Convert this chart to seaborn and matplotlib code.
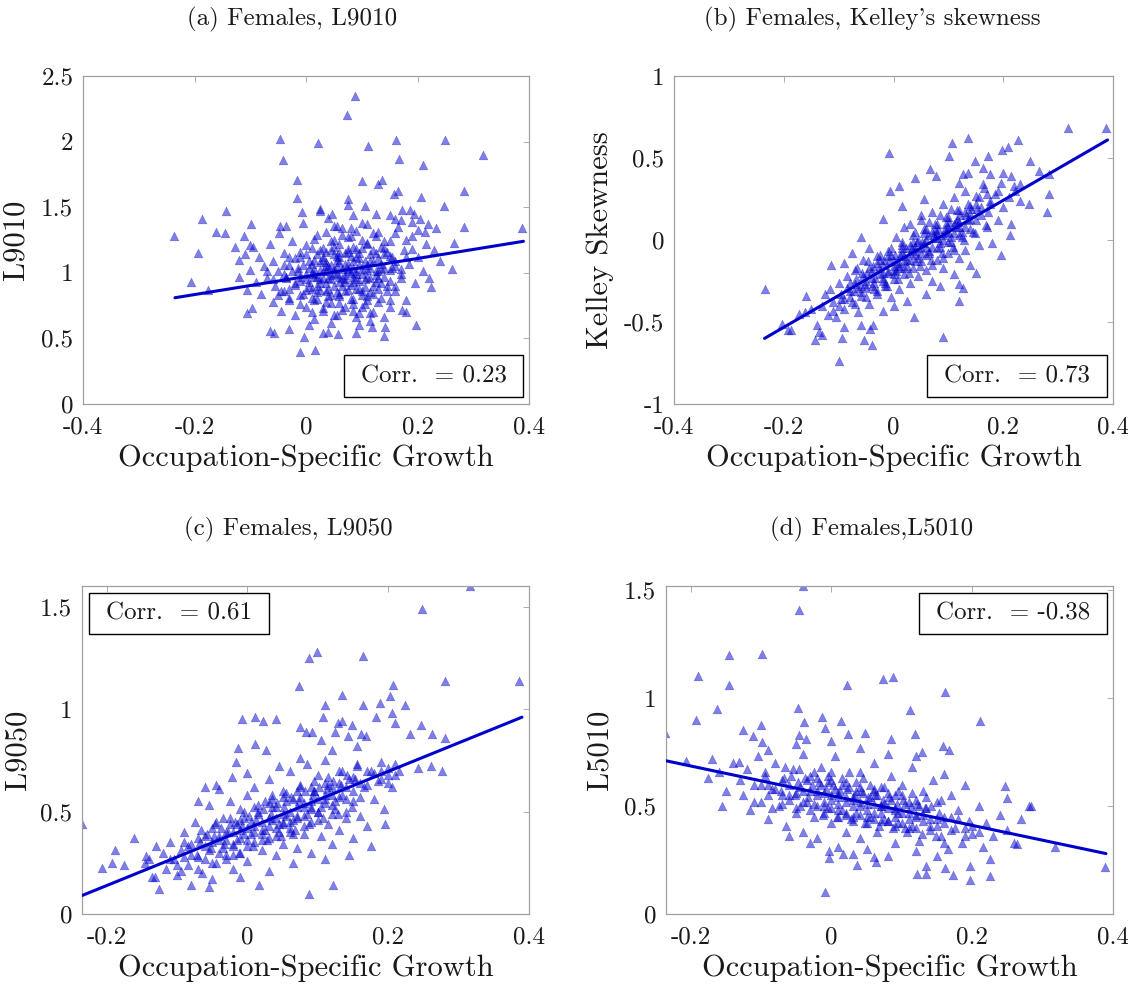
import numpy as np
import pandas as pd
import matplotlib
matplotlib.use("Agg")
import matplotlib.pyplot as plt
from matplotlib.ticker import FuncFormatter
from matplotlib.patches import Rectangle
import seaborn as sns

# ---- data (approximate) ----
# (a) L9010 vs occupation-specific growth
l9010_pts = [
    (0.088, 2.35), (0.074, 2.20), (-0.046, 2.02), (0.021, 1.99), (0.162, 2.01), (0.249, 2.01),
    (0.112, 1.97), (-0.041, 1.86), (0.166, 1.87), (0.210, 1.82), (0.318, 1.90), (-0.016, 1.71),
    (0.100, 1.70), (0.129, 1.68), (0.136, 1.71), (0.158, 1.60), (0.165, 1.62), (0.206, 1.58),
    (0.284, 1.62), (-0.017, 1.57), (0.075, 1.56), (0.247, 1.51), (0.388, 1.34), (0.283, 1.35),
    (0.265, 1.23), (0.262, 1.03), (0.224, 0.89), (0.198, 0.60), (-0.236, 1.28), (-0.187, 1.41),
    (-0.143, 1.47), (-0.162, 1.31), (-0.145, 1.30), (-0.193, 1.15), (-0.206, 0.93), (-0.175, 0.87),
    (-0.099, 1.37), (-0.111, 1.28), (-0.127, 1.20), (-0.100, 1.21), (-0.046, 1.36), (-0.120, 1.10),
    (-0.106, 0.69), (-0.097, 0.73), (-0.065, 0.56), (-0.057, 0.54), (-0.031, 0.57), (-0.010, 0.40),
    (0.016, 0.41), (-0.004, 0.51), (0.030, 0.54), (0.039, 0.55), (0.057, 0.53), (0.089, 0.54),
    (0.095, 0.60), (0.118, 0.59), (0.142, 0.59), (0.140, 0.52), (0.123, 0.32), (0.173, 0.72),
    (-0.007, 1.46), (0.025, 1.49), (0.047, 1.45), (0.076, 1.52), (0.106, 1.51), (0.187, 1.48),
    (0.172, 1.48), (0.151, 1.44), (0.194, 1.45), (0.204, 1.41), (0.219, 1.37), (0.233, 1.34),
    (0.213, 1.31),
    (-0.10, 1.02), (-0.09, 0.93), (-0.085, 1.12), (-0.08, 0.84), (-0.075, 1.05), (-0.07, 0.96),
    (-0.065, 1.22), (-0.06, 0.78), (-0.06, 1.09), (-0.055, 0.90), (-0.05, 1.01), (-0.048, 1.30),
    (-0.045, 0.71), (-0.04, 0.86), (-0.04, 1.15), (-0.035, 0.97), (-0.03, 1.06), (-0.03, 0.79),
    (-0.025, 1.24), (-0.02, 0.92), (-0.02, 0.68), (-0.015, 1.01), (-0.01, 1.12), (-0.01, 0.83),
    (-0.005, 1.38), (0.0, 0.95), (0.0, 0.74), (0.005, 1.04), (0.01, 0.88), (0.01, 1.19),
    (0.015, 0.65), (0.015, 0.99), (0.02, 1.29), (0.02, 0.80), (0.025, 1.08), (0.025, 0.92),
    (0.03, 0.71), (0.03, 1.01), (0.035, 1.16), (0.035, 0.86), (0.04, 0.96), (0.04, 1.42),
    (0.045, 0.77), (0.045, 1.06), (0.05, 0.90), (0.05, 1.25), (0.055, 0.99), (0.055, 0.68),
    (0.06, 1.12), (0.06, 0.84), (0.065, 1.03), (0.065, 1.34), (0.07, 0.93), (0.07, 0.74),
    (0.075, 1.18), (0.075, 0.87), (0.08, 1.00), (0.08, 1.28), (0.085, 0.80), (0.085, 1.09),
    (0.09, 0.95), (0.09, 0.66), (0.095, 1.15), (0.095, 0.88), (0.10, 1.03), (0.10, 1.38),
    (0.105, 0.76), (0.11, 0.97), (0.11, 1.22), (0.115, 0.85), (0.12, 1.08), (0.12, 0.70),
    (0.125, 0.93), (0.13, 1.31), (0.13, 1.01), (0.135, 0.81), (0.14, 1.14), (0.145, 0.90),
    (0.15, 1.24), (0.15, 0.74), (0.155, 1.04), (0.16, 0.86), (0.165, 1.35), (0.17, 0.96),
    (0.175, 1.17), (0.18, 0.79), (0.185, 1.07), (0.19, 1.28), (0.195, 0.92), (0.20, 1.12),
    (0.21, 1.01), (0.215, 1.22), (0.22, 0.96), (0.23, 1.17), (0.24, 1.09), (-0.11, 1.14),
    (-0.12, 0.97), (-0.105, 0.87), (-0.095, 1.20), (0.005, 0.60), (0.045, 0.62), (0.115, 0.63),
    (0.14, 0.66), (0.025, 1.47), (0.085, 1.44), (0.125, 1.45), (0.16, 1.41), (0.19, 1.39),
    (-0.035, 1.36), (0.055, 1.36), (0.18, 0.70), (0.17, 1.03), (0.135, 1.20), (0.06, 0.97),
    (0.035, 1.05), (0.07, 1.07), (0.05, 1.14), (0.09, 1.01), (0.02, 0.97),
    # dense core
    (-0.01, 0.76), (0.03, 0.73), (0.06, 0.77), (0.10, 0.74), (0.13, 0.78),
    (-0.03, 0.81), (0.015, 0.79), (0.045, 0.83), (0.08, 0.80), (0.11, 0.82), (0.15, 0.79),
    (-0.045, 0.86), (-0.005, 0.84), (0.025, 0.87), (0.055, 0.85), (0.09, 0.88), (0.12, 0.84),
    (0.145, 0.86), (-0.02, 0.91), (0.005, 0.89), (0.035, 0.92), (0.065, 0.90), (0.085, 0.93),
    (0.105, 0.89), (0.135, 0.92), (0.16, 0.90), (-0.035, 0.96), (-0.01, 0.94), (0.015, 0.97),
    (0.045, 0.95), (0.07, 0.98), (0.095, 0.94), (0.115, 0.96), (0.14, 0.97),
    (-0.025, 1.01), (0.0, 0.99), (0.025, 1.02), (0.05, 1.00), (0.075, 1.03), (0.10, 0.99),
    (0.125, 1.01), (0.15, 1.02), (0.17, 0.99), (-0.04, 1.06), (-0.015, 1.04), (0.01, 1.07),
    (0.04, 1.05), (0.06, 1.08), (0.085, 1.04), (0.11, 1.06), (0.135, 1.07), (0.16, 1.05),
    (-0.02, 1.11), (0.005, 1.09), (0.03, 1.12), (0.055, 1.10), (0.08, 1.13), (0.105, 1.09),
    (0.13, 1.11), (0.155, 1.12), (-0.01, 1.16), (0.02, 1.14), (0.045, 1.17), (0.07, 1.15),
    (0.09, 1.18), (0.115, 1.14), (0.145, 1.16), (0.0, 1.21), (0.03, 1.19), (0.06, 1.22),
    (0.085, 1.20), (0.11, 1.23), (0.14, 1.19), (0.015, 1.26), (0.045, 1.24), (0.075, 1.27),
    (0.10, 1.25), (0.125, 1.28), (0.035, 1.31), (0.065, 1.29), (0.09, 1.32), (0.12, 1.30),
    (0.05, 1.36), (0.08, 1.34), (0.11, 1.37), (0.01, 0.70), (0.05, 0.68), (0.085, 0.71),
    (0.115, 0.69),
    (0.0, 0.87), (0.02, 0.90), (0.04, 0.88), (0.06, 0.93), (0.08, 0.91), (0.10, 0.86),
    (0.12, 0.90), (-0.01, 0.97), (0.01, 1.00), (0.03, 0.96), (0.05, 1.03), (0.07, 0.95),
    (0.09, 0.99), (0.11, 1.02), (0.13, 0.96), (-0.005, 1.06), (0.015, 1.10), (0.035, 1.08),
    (0.055, 1.13), (0.075, 1.07), (0.095, 1.11), (0.115, 1.09), (0.14, 1.04), (0.0, 1.14),
    (0.025, 1.17), (0.05, 1.20), (0.075, 1.16), (0.10, 1.19), (0.125, 1.15), (0.01, 0.81),
    (0.035, 0.78), (0.06, 0.82), (0.085, 0.76), (0.11, 0.79), (-0.03, 0.88), (-0.04, 0.99),
    (-0.03, 1.12), (0.15, 0.94), (0.16, 1.09), (0.14, 1.24),
    (0.005, 0.93), (0.025, 0.95), (0.045, 0.98), (0.065, 0.96), (0.085, 0.97), (0.105, 0.95),
    (0.125, 0.98), (0.015, 1.03), (0.035, 1.01), (0.055, 1.05), (0.075, 1.01), (0.095, 1.06),
    (0.115, 1.04), (0.135, 1.03), (0.02, 0.85), (0.04, 0.82), (0.07, 0.86), (0.10, 0.83),
    (0.13, 0.88), (0.03, 1.10), (0.06, 1.16), (0.09, 1.12), (0.12, 1.17), (0.15, 1.13),
    (0.16, 1.30), (0.18, 1.25), (0.17, 1.40), (0.20, 1.33), (0.19, 1.18), (0.18, 1.12),
    (-0.06, 0.95), (-0.07, 1.01), (-0.05, 0.83), (0.065, 0.72), (0.095, 0.69),
]

# (b) Kelley skewness
kelley_pts = [
    (-0.234, -0.30), (-0.204, -0.51), (-0.192, -0.55), (-0.187, -0.55), (-0.173, -0.45),
    (-0.161, -0.44), (-0.143, -0.61), (-0.130, -0.58), (-0.114, -0.155), (-0.099, -0.74),
    (-0.094, -0.60), (-0.054, -0.61), (-0.040, -0.64), (-0.038, -0.52), (-0.043, -0.54),
    (-0.009, 0.53), (-0.007, 0.30), (0.010, 0.33), (0.039, 0.38), (0.038, -0.47), (0.090, -0.59),
    (0.119, -0.37), (0.126, -0.29), (0.151, -0.20), (0.195, -0.09), (0.212, 0.03),
    (0.107, 0.59), (0.102, 0.51), (0.136, 0.62), (0.148, 0.48), (0.173, 0.51), (0.197, 0.55),
    (0.209, 0.57), (0.226, 0.61), (0.249, 0.48), (0.265, 0.42), (0.284, 0.28), (0.279, 0.17),
    (0.247, 0.22), (0.284, 0.40), (0.318, 0.68), (0.388, 0.68),
    (0.067, 0.43), (0.077, 0.39), (0.119, 0.35), (0.127, 0.40), (0.136, 0.41), (0.163, 0.44),
    (0.175, 0.40), (0.164, 0.34), (0.200, 0.41), (0.215, 0.39), (0.230, 0.34), (0.221, 0.30),
    (-0.13, -0.40), (-0.125, -0.33), (-0.12, -0.46), (-0.115, -0.30), (-0.11, -0.38),
    (-0.105, -0.47), (-0.10, -0.26), (-0.095, -0.36), (-0.09, -0.42), (-0.085, -0.22),
    (-0.08, -0.31), (-0.075, -0.38), (-0.07, -0.18), (-0.07, -0.27), (-0.065, -0.44),
    (-0.06, -0.34), (-0.055, -0.12), (-0.055, -0.22), (-0.05, -0.29), (-0.045, -0.39),
    (-0.045, -0.05), (-0.04, -0.19), (-0.035, -0.26), (-0.03, -0.33), (-0.03, -0.10),
    (-0.025, -0.21), (-0.02, -0.43), (-0.02, -0.15), (-0.015, -0.28), (-0.01, -0.07),
    (-0.01, -0.20), (-0.005, -0.35), (0.0, -0.13), (0.0, -0.24), (0.005, 0.02), (0.01, -0.17),
    (0.01, -0.30), (0.015, -0.08), (0.02, -0.21), (0.02, 0.08), (0.025, -0.12), (0.03, -0.26),
    (0.03, -0.03), (0.035, -0.17), (0.04, 0.05), (0.04, -0.09), (0.045, -0.22), (0.05, -0.13),
    (0.05, 0.12), (0.055, -0.02), (0.06, -0.18), (0.06, 0.07), (0.065, -0.08), (0.07, 0.17),
    (0.07, -0.25), (0.075, 0.01), (0.08, -0.12), (0.08, 0.10), (0.085, -0.04), (0.09, 0.22),
    (0.09, -0.17), (0.095, 0.04), (0.10, -0.08), (0.10, 0.14), (0.105, -0.01), (0.11, 0.26),
    (0.11, -0.21), (0.115, 0.08), (0.12, -0.11), (0.12, 0.18), (0.125, 0.02), (0.13, 0.30),
    (0.13, -0.06), (0.135, 0.12), (0.14, 0.21), (0.14, -0.15), (0.145, 0.05), (0.15, 0.27),
    (0.155, -0.03), (0.16, 0.15), (0.165, 0.32), (0.17, 0.08), (0.175, 0.22), (0.18, -0.02),
    (0.185, 0.28), (0.19, 0.12), (0.195, 0.35), (0.20, 0.20), (0.21, 0.26), (0.215, 0.10),
    (0.22, 0.33), (0.23, 0.24), (-0.14, -0.52), (-0.15, -0.42), (-0.16, -0.34), (-0.135, -0.56),
    (-0.09, -0.53), (-0.06, -0.52), (0.0, -0.40), (0.025, -0.37), (-0.075, -0.08), (-0.09, -0.14),
    (-0.06, 0.02), (-0.02, 0.13), (0.015, 0.21), (0.055, 0.25), (0.085, -0.28), (0.06, -0.33),
    (0.12, -0.27),
    # dense core
    (-0.07, -0.39), (-0.072, -0.31), (-0.068, -0.24), (-0.066, -0.17),
    (-0.05, -0.35), (-0.052, -0.27), (-0.048, -0.20), (-0.046, -0.13),
    (-0.03, -0.31), (-0.033, -0.23), (-0.027, -0.17), (-0.025, -0.09),
    (-0.012, -0.28), (-0.01, -0.19), (-0.008, -0.13), (-0.005, -0.05),
    (0.008, -0.24), (0.01, -0.16), (0.012, -0.09), (0.015, -0.01),
    (0.028, -0.20), (0.03, -0.12), (0.033, -0.05), (0.035, 0.03),
    (0.048, -0.16), (0.05, -0.08), (0.052, -0.01), (0.055, 0.07),
    (0.068, -0.12), (0.07, -0.04), (0.073, 0.03), (0.075, 0.10),
    (0.088, -0.08), (0.09, 0.0), (0.093, 0.07), (0.095, 0.14),
    (0.108, -0.04), (0.11, 0.04), (0.113, 0.11), (0.115, 0.18),
    (0.128, 0.0), (0.13, 0.08), (0.133, 0.15), (0.135, 0.22),
    (0.148, 0.04), (0.15, 0.12), (0.153, 0.19), (0.155, 0.26),
    (0.168, 0.09), (0.172, 0.17), (0.175, 0.24),
    (-0.06, -0.32), (-0.058, -0.20), (-0.04, -0.28), (-0.038, -0.16), (-0.02, -0.25),
    (-0.018, -0.12), (0.0, -0.21), (0.002, -0.09), (0.02, -0.17), (0.022, -0.05),
    (0.04, -0.13), (0.042, -0.01), (0.06, -0.09), (0.062, 0.03), (0.08, -0.05), (0.082, 0.07),
    (0.10, -0.01), (0.102, 0.11), (0.12, 0.03), (0.122, 0.15), (0.14, 0.07), (0.142, 0.19),
    (-0.09, -0.36), (-0.10, -0.40), (-0.11, -0.43), (-0.085, -0.29), (-0.095, -0.33),
    (-0.04, -0.23), (-0.02, -0.20), (0.0, -0.16), (0.02, -0.13), (0.04, -0.07), (0.06, -0.04),
    (0.08, 0.01), (0.10, 0.05), (0.12, 0.08), (0.14, 0.13), (-0.035, -0.30), (-0.015, -0.26),
    (0.005, -0.19), (0.025, -0.16), (0.045, -0.11), (0.065, -0.07), (0.085, -0.02),
    (0.105, 0.02), (0.125, 0.05), (-0.045, -0.17), (-0.025, -0.12), (-0.005, -0.09),
    (0.015, -0.05), (0.035, -0.01), (0.055, 0.04), (0.075, 0.06), (0.095, 0.10),
    (0.115, 0.13), (-0.065, -0.29), (-0.08, -0.35), (0.16, 0.20), (0.14, 0.16),
    (0.0, -0.18), (0.02, -0.10), (0.04, -0.04), (0.06, 0.0), (0.08, 0.04), (0.10, 0.08),
    (0.12, 0.11), (-0.02, -0.23), (0.01, -0.14), (0.03, -0.08), (0.05, -0.05), (0.07, 0.05),
    (0.09, 0.03), (0.11, 0.10), (-0.03, -0.14), (-0.01, -0.10), (0.015, -0.03), (0.045, 0.0),
    (0.065, 0.11), (0.085, 0.15), (0.105, 0.19), (-0.05, -0.25), (-0.06, -0.28), (-0.08, -0.26),
    (0.13, 0.17), (0.15, 0.22), (0.17, 0.28), (0.19, 0.30), (0.07, -0.15), (0.09, -0.11),
    (0.11, -0.06), (0.03, 0.10), (0.05, 0.15),
]

# (c) L9050
l9050_pts = [
    (-0.235, 0.44), (-0.206, 0.226), (-0.193, 0.25), (-0.188, 0.31), (-0.175, 0.24),
    (-0.161, 0.37), (-0.146, 0.25), (-0.144, 0.285), (-0.131, 0.18), (0.316, 1.60),
    (0.248, 1.49), (0.088, 1.25), (0.099, 1.28), (0.164, 1.26), (0.281, 1.135), (0.386, 1.135),
    (0.073, 1.11), (0.135, 1.07), (0.207, 1.115), (0.202, 1.065), (0.110, 1.02), (0.164, 1.02),
    (0.189, 1.03), (0.224, 1.02), (-0.007, 0.95), (0.011, 0.96), (0.022, 0.94), (0.040, 0.95),
    (-0.014, 0.81), (0.011, 0.83), (0.026, 0.80), (-0.016, 0.74), (-0.022, 0.67),
    (0.107, 0.96), (0.128, 0.93), (0.135, 0.94), (0.149, 0.92), (0.183, 0.96), (0.206, 0.98),
    (0.210, 0.93), (0.074, 0.91), (0.083, 0.89), (0.092, 0.89), (0.104, 0.85), (0.125, 0.89),
    (0.143, 0.87), (0.161, 0.88), (0.169, 0.87), (0.246, 0.92), (0.262, 0.88), (0.231, 0.88),
    (0.281, 0.86), (0.243, 0.71), (0.261, 0.72), (0.277, 0.70), (0.088, 0.10), (0.122, 0.14),
    (0.017, 0.14), (-0.055, 0.13), (0.194, 0.51), (0.196, 0.44),
    (-0.12, 0.30), (-0.115, 0.22), (-0.11, 0.35), (-0.105, 0.27), (-0.10, 0.19), (-0.095, 0.31),
    (-0.09, 0.40), (-0.085, 0.24), (-0.08, 0.34), (-0.075, 0.45), (-0.07, 0.28), (-0.065, 0.20),
    (-0.06, 0.38), (-0.055, 0.31), (-0.055, 0.53), (-0.05, 0.42), (-0.045, 0.25), (-0.04, 0.36),
    (-0.04, 0.61), (-0.035, 0.47), (-0.03, 0.29), (-0.03, 0.40), (-0.025, 0.55), (-0.02, 0.34),
    (-0.02, 0.22), (-0.015, 0.44), (-0.01, 0.51), (-0.01, 0.30), (-0.005, 0.39), (0.0, 0.58),
    (0.0, 0.26), (0.005, 0.45), (0.01, 0.35), (0.01, 0.62), (0.015, 0.49), (0.02, 0.31),
    (0.02, 0.41), (0.025, 0.55), (0.03, 0.37), (0.03, 0.66), (0.035, 0.46), (0.04, 0.29),
    (0.04, 0.52), (0.045, 0.40), (0.05, 0.60), (0.05, 0.34), (0.055, 0.48), (0.06, 0.70),
    (0.06, 0.42), (0.065, 0.56), (0.07, 0.32), (0.07, 0.47), (0.075, 0.63), (0.08, 0.39),
    (0.08, 0.54), (0.085, 0.73), (0.09, 0.45), (0.09, 0.30), (0.095, 0.60), (0.10, 0.50),
    (0.10, 0.68), (0.105, 0.38), (0.11, 0.56), (0.11, 0.75), (0.115, 0.44), (0.12, 0.62),
    (0.12, 0.34), (0.125, 0.51), (0.13, 0.70), (0.13, 0.41), (0.135, 0.58), (0.14, 0.47),
    (0.145, 0.66), (0.15, 0.37), (0.15, 0.55), (0.155, 0.73), (0.16, 0.48), (0.165, 0.62),
    (0.17, 0.43), (0.175, 0.70), (0.18, 0.56), (0.185, 0.65), (0.19, 0.74), (0.20, 0.68),
    (0.205, 0.62), (0.21, 0.73), (0.215, 0.70), (-0.14, 0.27), (-0.135, 0.18), (-0.13, 0.33),
    (-0.125, 0.12), (-0.08, 0.14), (-0.05, 0.17), (-0.01, 0.18), (0.03, 0.21), (0.065, 0.25),
    (0.11, 0.27), (0.145, 0.29), (0.175, 0.33), (-0.07, 0.55), (-0.06, 0.62), (-0.045, 0.63),
    (0.0, 0.69), (0.045, 0.72), (0.075, 0.76), (0.12, 0.80), (0.155, 0.82), (0.05, 0.44),
    (0.065, 0.39), (0.035, 0.58), (0.09, 0.52),
    # dense core
    (-0.07, 0.22), (-0.072, 0.29), (-0.068, 0.35), (-0.066, 0.41),
    (-0.05, 0.25), (-0.052, 0.32), (-0.048, 0.38), (-0.046, 0.44),
    (-0.03, 0.27), (-0.033, 0.34), (-0.027, 0.40), (-0.025, 0.47),
    (-0.012, 0.30), (-0.01, 0.37), (-0.008, 0.43), (-0.005, 0.50),
    (0.008, 0.33), (0.01, 0.40), (0.012, 0.46), (0.015, 0.53),
    (0.028, 0.36), (0.03, 0.43), (0.033, 0.49), (0.035, 0.56),
    (0.048, 0.38), (0.05, 0.45), (0.052, 0.52), (0.055, 0.59),
    (0.068, 0.41), (0.07, 0.48), (0.073, 0.55), (0.075, 0.62),
    (0.088, 0.44), (0.09, 0.51), (0.093, 0.58), (0.095, 0.65),
    (0.108, 0.47), (0.11, 0.54), (0.113, 0.61), (0.115, 0.67),
    (0.128, 0.49), (0.13, 0.57), (0.133, 0.63), (0.135, 0.70),
    (0.148, 0.52), (0.15, 0.60), (0.153, 0.66), (0.155, 0.72),
    (-0.06, 0.27), (-0.058, 0.39), (-0.04, 0.30), (-0.038, 0.42), (-0.02, 0.33), (-0.018, 0.45),
    (0.0, 0.36), (0.002, 0.48), (0.02, 0.39), (0.022, 0.51), (0.04, 0.42), (0.042, 0.54),
    (0.06, 0.45), (0.062, 0.57), (0.08, 0.48), (0.082, 0.60), (0.10, 0.50), (0.102, 0.62),
    (0.12, 0.53), (0.122, 0.65), (0.14, 0.56), (0.142, 0.68),
    (-0.09, 0.28), (-0.10, 0.24), (-0.11, 0.27), (-0.085, 0.33), (-0.095, 0.21),
    (0.17, 0.63), (0.18, 0.69), (0.19, 0.66), (0.20, 0.71), (0.21, 0.68),
    (-0.04, 0.38), (-0.02, 0.40), (0.0, 0.42), (0.02, 0.45), (0.04, 0.47), (0.06, 0.50),
    (0.08, 0.52), (0.10, 0.56), (0.12, 0.58), (-0.035, 0.32), (-0.015, 0.36), (0.005, 0.39),
    (0.025, 0.41), (0.045, 0.44), (0.065, 0.46), (0.085, 0.49), (0.105, 0.52), (0.125, 0.55),
    (-0.045, 0.45), (-0.025, 0.44), (-0.005, 0.47), (0.015, 0.50), (0.035, 0.52),
    (0.055, 0.55), (0.075, 0.57), (0.095, 0.60), (0.115, 0.63), (0.14, 0.62), (0.16, 0.64),
    (-0.08, 0.29), (-0.06, 0.33),
    (-0.03, 0.36), (-0.01, 0.41), (0.01, 0.43), (0.03, 0.47), (0.05, 0.49), (0.07, 0.52),
    (0.09, 0.55), (0.11, 0.58), (-0.02, 0.29), (0.0, 0.33), (0.02, 0.36), (0.04, 0.38),
    (0.06, 0.40), (0.08, 0.43), (0.10, 0.46), (0.12, 0.49), (-0.01, 0.46), (0.01, 0.52),
    (0.03, 0.54), (0.05, 0.57), (0.07, 0.60), (0.09, 0.62), (0.11, 0.64), (0.13, 0.64),
    (0.15, 0.67), (0.17, 0.70), (0.14, 0.50), (0.16, 0.57), (-0.07, 0.37), (-0.05, 0.35),
    (-0.09, 0.35), (0.19, 0.70), (0.20, 0.64),
]

# (d) L5010
l5010_pts = [
    (-0.236, 0.84), (-0.207, 0.71), (-0.193, 0.90), (-0.189, 1.105), (-0.176, 0.63),
    (-0.162, 0.95), (-0.145, 1.20), (-0.146, 1.06), (-0.099, 1.205), (-0.046, 1.41),
    (-0.040, 1.52), (0.022, 1.06), (0.073, 1.09), (0.088, 1.10), (0.161, 1.03), (0.111, 0.945),
    (0.211, 0.894), (0.389, 0.216), (0.317, 0.31), (-0.009, 0.10), (0.281, 0.50), (0.284, 0.50),
    (0.247, 0.595), (0.249, 0.536), (0.263, 0.326), (0.225, 0.178), (0.197, 0.156),
    (0.173, 0.179), (0.135, 0.187), (0.121, 0.187), (0.134, 0.221), (0.162, 0.213),
    (0.197, 0.221), (0.225, 0.255), (-0.004, 0.26), (-0.003, 0.29), (0.017, 0.276),
    (0.030, 0.276), (0.037, 0.229), (0.064, 0.241), (0.061, 0.265), (-0.047, 0.953),
    (-0.039, 0.888), (-0.036, 0.81), (-0.046, 0.829), (-0.014, 0.911), (-0.009, 0.86),
    (0.014, 0.894), (0.023, 0.833), (0.047, 0.84), (0.084, 0.813), (0.119, 0.833),
    (0.129, 0.75), (0.158, 0.779), (0.167, 0.759), (-0.126, 0.852), (-0.112, 0.824),
    (-0.100, 0.875), (-0.099, 0.797), (-0.131, 0.704),
    (-0.14, 0.70), (-0.13, 0.62), (-0.125, 0.55), (-0.12, 0.67), (-0.115, 0.48), (-0.11, 0.60),
    (-0.105, 0.73), (-0.10, 0.52), (-0.095, 0.64), (-0.09, 0.44), (-0.085, 0.58), (-0.08, 0.70),
    (-0.075, 0.50), (-0.07, 0.62), (-0.065, 0.41), (-0.06, 0.55), (-0.055, 0.67), (-0.05, 0.47),
    (-0.045, 0.59), (-0.04, 0.38), (-0.04, 0.74), (-0.035, 0.52), (-0.03, 0.64), (-0.025, 0.45),
    (-0.02, 0.57), (-0.02, 0.35), (-0.015, 0.68), (-0.01, 0.50), (-0.005, 0.61), (0.0, 0.42),
    (0.0, 0.55), (0.005, 0.73), (0.01, 0.48), (0.015, 0.60), (0.02, 0.38), (0.02, 0.52),
    (0.025, 0.66), (0.03, 0.45), (0.035, 0.57), (0.04, 0.35), (0.04, 0.50), (0.045, 0.63),
    (0.05, 0.42), (0.055, 0.54), (0.06, 0.70), (0.06, 0.47), (0.065, 0.38), (0.07, 0.59),
    (0.075, 0.51), (0.08, 0.43), (0.085, 0.64), (0.09, 0.55), (0.09, 0.33), (0.095, 0.47),
    (0.10, 0.60), (0.105, 0.40), (0.11, 0.52), (0.115, 0.68), (0.12, 0.45), (0.125, 0.34),
    (0.13, 0.57), (0.135, 0.49), (0.14, 0.41), (0.145, 0.62), (0.15, 0.52), (0.155, 0.36),
    (0.16, 0.45), (0.165, 0.30), (0.17, 0.55), (0.175, 0.40), (0.18, 0.48), (0.185, 0.33),
    (0.19, 0.60), (0.195, 0.43), (0.20, 0.37), (0.21, 0.50), (0.215, 0.31), (0.22, 0.42),
    (0.23, 0.36), (0.24, 0.46), (0.25, 0.39), (0.26, 0.33), (0.27, 0.44), (-0.15, 0.57),
    (-0.16, 0.66), (-0.17, 0.72), (-0.155, 0.50), (-0.06, 0.36), (-0.03, 0.33), (0.01, 0.31),
    (0.05, 0.30), (0.08, 0.27), (0.12, 0.29), (0.15, 0.27), (-0.09, 0.76), (-0.05, 0.79),
    (0.0, 0.80), (0.04, 0.77), (0.08, 0.74), (0.12, 0.73), (0.16, 0.65), (0.03, 0.54),
    (0.06, 0.58), (0.07, 0.50), (0.02, 0.46), (0.09, 0.49), (0.01, 0.56),
    # dense core
    (-0.07, 0.51), (-0.072, 0.57), (-0.068, 0.63), (-0.066, 0.68),
    (-0.05, 0.49), (-0.052, 0.55), (-0.048, 0.61), (-0.046, 0.67),
    (-0.03, 0.48), (-0.033, 0.54), (-0.027, 0.60), (-0.025, 0.66),
    (-0.012, 0.46), (-0.01, 0.52), (-0.008, 0.58), (-0.005, 0.64),
    (0.008, 0.45), (0.01, 0.51), (0.012, 0.57), (0.015, 0.63),
    (0.028, 0.44), (0.03, 0.50), (0.033, 0.55), (0.035, 0.61),
    (0.048, 0.42), (0.05, 0.48), (0.052, 0.54), (0.055, 0.60),
    (0.068, 0.41), (0.07, 0.47), (0.073, 0.53), (0.075, 0.59),
    (0.088, 0.40), (0.09, 0.45), (0.093, 0.51), (0.095, 0.57),
    (0.108, 0.38), (0.11, 0.44), (0.113, 0.50), (0.115, 0.56),
    (0.128, 0.37), (0.13, 0.43), (0.133, 0.49), (0.135, 0.54),
    (0.148, 0.36), (0.15, 0.41), (0.153, 0.47), (0.155, 0.53),
    (-0.06, 0.53), (-0.058, 0.64), (-0.04, 0.52), (-0.038, 0.63), (-0.02, 0.50), (-0.018, 0.61),
    (0.0, 0.49), (0.002, 0.60), (0.02, 0.47), (0.022, 0.58), (0.04, 0.46), (0.042, 0.57),
    (0.06, 0.44), (0.062, 0.55), (0.08, 0.43), (0.082, 0.54), (0.10, 0.42), (0.102, 0.53),
    (0.12, 0.40), (0.122, 0.51), (0.14, 0.39), (0.142, 0.50),
    (-0.09, 0.55), (-0.10, 0.60), (-0.11, 0.52), (-0.085, 0.49), (-0.095, 0.66),
    (0.17, 0.39), (0.18, 0.44), (0.19, 0.36), (0.20, 0.41), (0.16, 0.33),
    (-0.04, 0.57), (-0.02, 0.55), (0.0, 0.53), (0.02, 0.54), (0.04, 0.52), (0.06, 0.51),
    (0.08, 0.49), (0.10, 0.47), (0.12, 0.46), (-0.035, 0.62), (-0.015, 0.60), (0.005, 0.58),
    (0.025, 0.59), (0.045, 0.56), (0.065, 0.55), (0.085, 0.53), (0.105, 0.51), (0.125, 0.50),
    (-0.045, 0.50), (-0.025, 0.51), (-0.005, 0.49), (0.015, 0.48), (0.035, 0.47),
    (0.055, 0.45), (0.075, 0.44), (0.095, 0.42), (0.115, 0.41), (0.14, 0.44), (0.16, 0.42),
    (-0.08, 0.58), (-0.06, 0.60),
    (-0.03, 0.57), (-0.01, 0.56), (0.01, 0.54), (0.03, 0.53), (0.05, 0.51), (0.07, 0.50),
    (0.09, 0.48), (0.11, 0.47), (-0.02, 0.63), (0.0, 0.62), (0.02, 0.61), (0.04, 0.59),
    (0.06, 0.57), (0.08, 0.56), (0.10, 0.55), (0.12, 0.53), (-0.01, 0.47), (0.01, 0.45),
    (0.03, 0.43), (0.05, 0.45), (0.07, 0.43), (0.09, 0.41), (0.11, 0.40), (0.13, 0.46),
    (0.15, 0.44), (0.17, 0.45), (-0.05, 0.56), (-0.07, 0.55), (-0.09, 0.60), (0.19, 0.40),
    (0.21, 0.38), (0.0, 0.66), (0.04, 0.66),
]

# fitted lines (end points)
fit_x = [-0.235, 0.39]
fit_a = [0.81, 1.24]
fit_b = [-0.60, 0.61]
fit_c = [0.09, 0.96]
fit_d = [0.71, 0.28]

titles = ["(a) Females, L9010", "(b) Females, Kelley's skewness",
          "(c) Females, L9050", "(d) Females,L5010"]
ylabels = ["L9010", "Kelley Skewness", "L9050", "L5010"]
corr_labels = ["Corr.  = 0.23", "Corr.  = 0.73", "Corr.  = 0.61", "Corr.  = -0.38"]

# ---- styling ----
sns.set_style("white")
plt.rcParams["font.family"] = ["cmr10", "DejaVu Serif"]
plt.rcParams["mathtext.fontset"] = "cm"
plt.rcParams["axes.unicode_minus"] = False

BLUE = "#0000cc"
GREY = "#a0a0a0"
TXT = "#1a1a1a"

fig = plt.figure(figsize=(11.28, 9.88), dpi=100)
W, H = 1128, 988

def px_axes(l, t, r, b):
    return fig.add_axes([l / W, 1 - b / H, (r - l) / W, (b - t) / H])

axes_box = [(83, 76, 529, 404), (674, 76, 1113, 404),
            (82, 586, 529, 914), (666, 586, 1113, 914)]
panels = [l9010_pts, kelley_pts, l9050_pts, l5010_pts]
fits = [fit_a, fit_b, fit_c, fit_d]
xlims = [(-0.4, 0.4), (-0.4, 0.4), (-0.235, 0.4), (-0.235, 0.4)]
ylims = [(0, 2.5), (-1, 1), (0, 1.6), (0, 1.52)]
yticks = [np.arange(0, 2.51, 0.5), np.arange(-1, 1.01, 0.5),
          np.arange(0, 1.51, 0.5), np.arange(0, 1.51, 0.5)]
xticks = [np.arange(-0.4, 0.41, 0.2), np.arange(-0.4, 0.41, 0.2),
          np.arange(-0.2, 0.41, 0.2), np.arange(-0.2, 0.41, 0.2)]
# legend boxes in axes fraction: (x0, y0, x1, y1)
corr_box = [(0.585, 0.021, 0.987, 0.149), (0.576, 0.021, 0.986, 0.149),
            (0.016, 0.854, 0.418, 0.979), (0.566, 0.854, 0.987, 0.979)]
ylabel_x = [-0.150, -0.169, -0.143, -0.148]
title_pos = [(292, 19), (872, 19), (288, 529), (872, 529)]

fmt = FuncFormatter(lambda v, p: "{:g}".format(round(v, 6)))

for i in range(4):
    ax = px_axes(*axes_box[i])
    df = pd.DataFrame(panels[i], columns=["growth", "value"])
    sns.scatterplot(data=df, x="growth", y="value", ax=ax, marker="^", s=40,
                    color=BLUE, alpha=0.5, edgecolor=BLUE, linewidth=0.3, zorder=2)
    sns.lineplot(x=fit_x, y=fits[i], ax=ax, color=BLUE, linewidth=2.2, zorder=3)
    ax.set_xlim(*xlims[i])
    ax.set_ylim(*ylims[i])
    ax.set_xticks(xticks[i])
    ax.set_yticks(yticks[i])
    ax.xaxis.set_major_formatter(fmt)
    ax.yaxis.set_major_formatter(fmt)
    ax.tick_params(direction="in", length=4, width=0.6, color=GREY,
                   labelsize=18, top=True, right=True, labelcolor=TXT)
    ax.tick_params(axis="x", pad=9)
    ax.tick_params(axis="y", pad=7)
    for sp in ax.spines.values():
        sp.set_color(GREY)
        sp.set_linewidth(0.9)
    ax.set_xlabel("Occupation-Specific Growth", fontsize=22, color=TXT, va="center")
    ax.xaxis.set_label_coords(0.5, -0.165)
    ax.set_ylabel(ylabels[i], fontsize=22, color=TXT, va="center")
    ax.yaxis.set_label_coords(ylabel_x[i], 0.5)

    x0, y0, x1, y1 = corr_box[i]
    ax.add_patch(Rectangle((x0, y0), x1 - x0, y1 - y0, transform=ax.transAxes,
                           facecolor="white", edgecolor="black", lw=1.0, zorder=5))
    ax.text((x0 + x1) / 2, (y0 + y1) / 2, corr_labels[i], transform=ax.transAxes,
            ha="center", va="center", fontsize=18, color=TXT, zorder=6)
    fig.text(title_pos[i][0] / W, 1 - title_pos[i][1] / H, titles[i],
             ha="center", va="center", fontsize=18, color=TXT)

fig.savefig("out.png", dpi=100)
